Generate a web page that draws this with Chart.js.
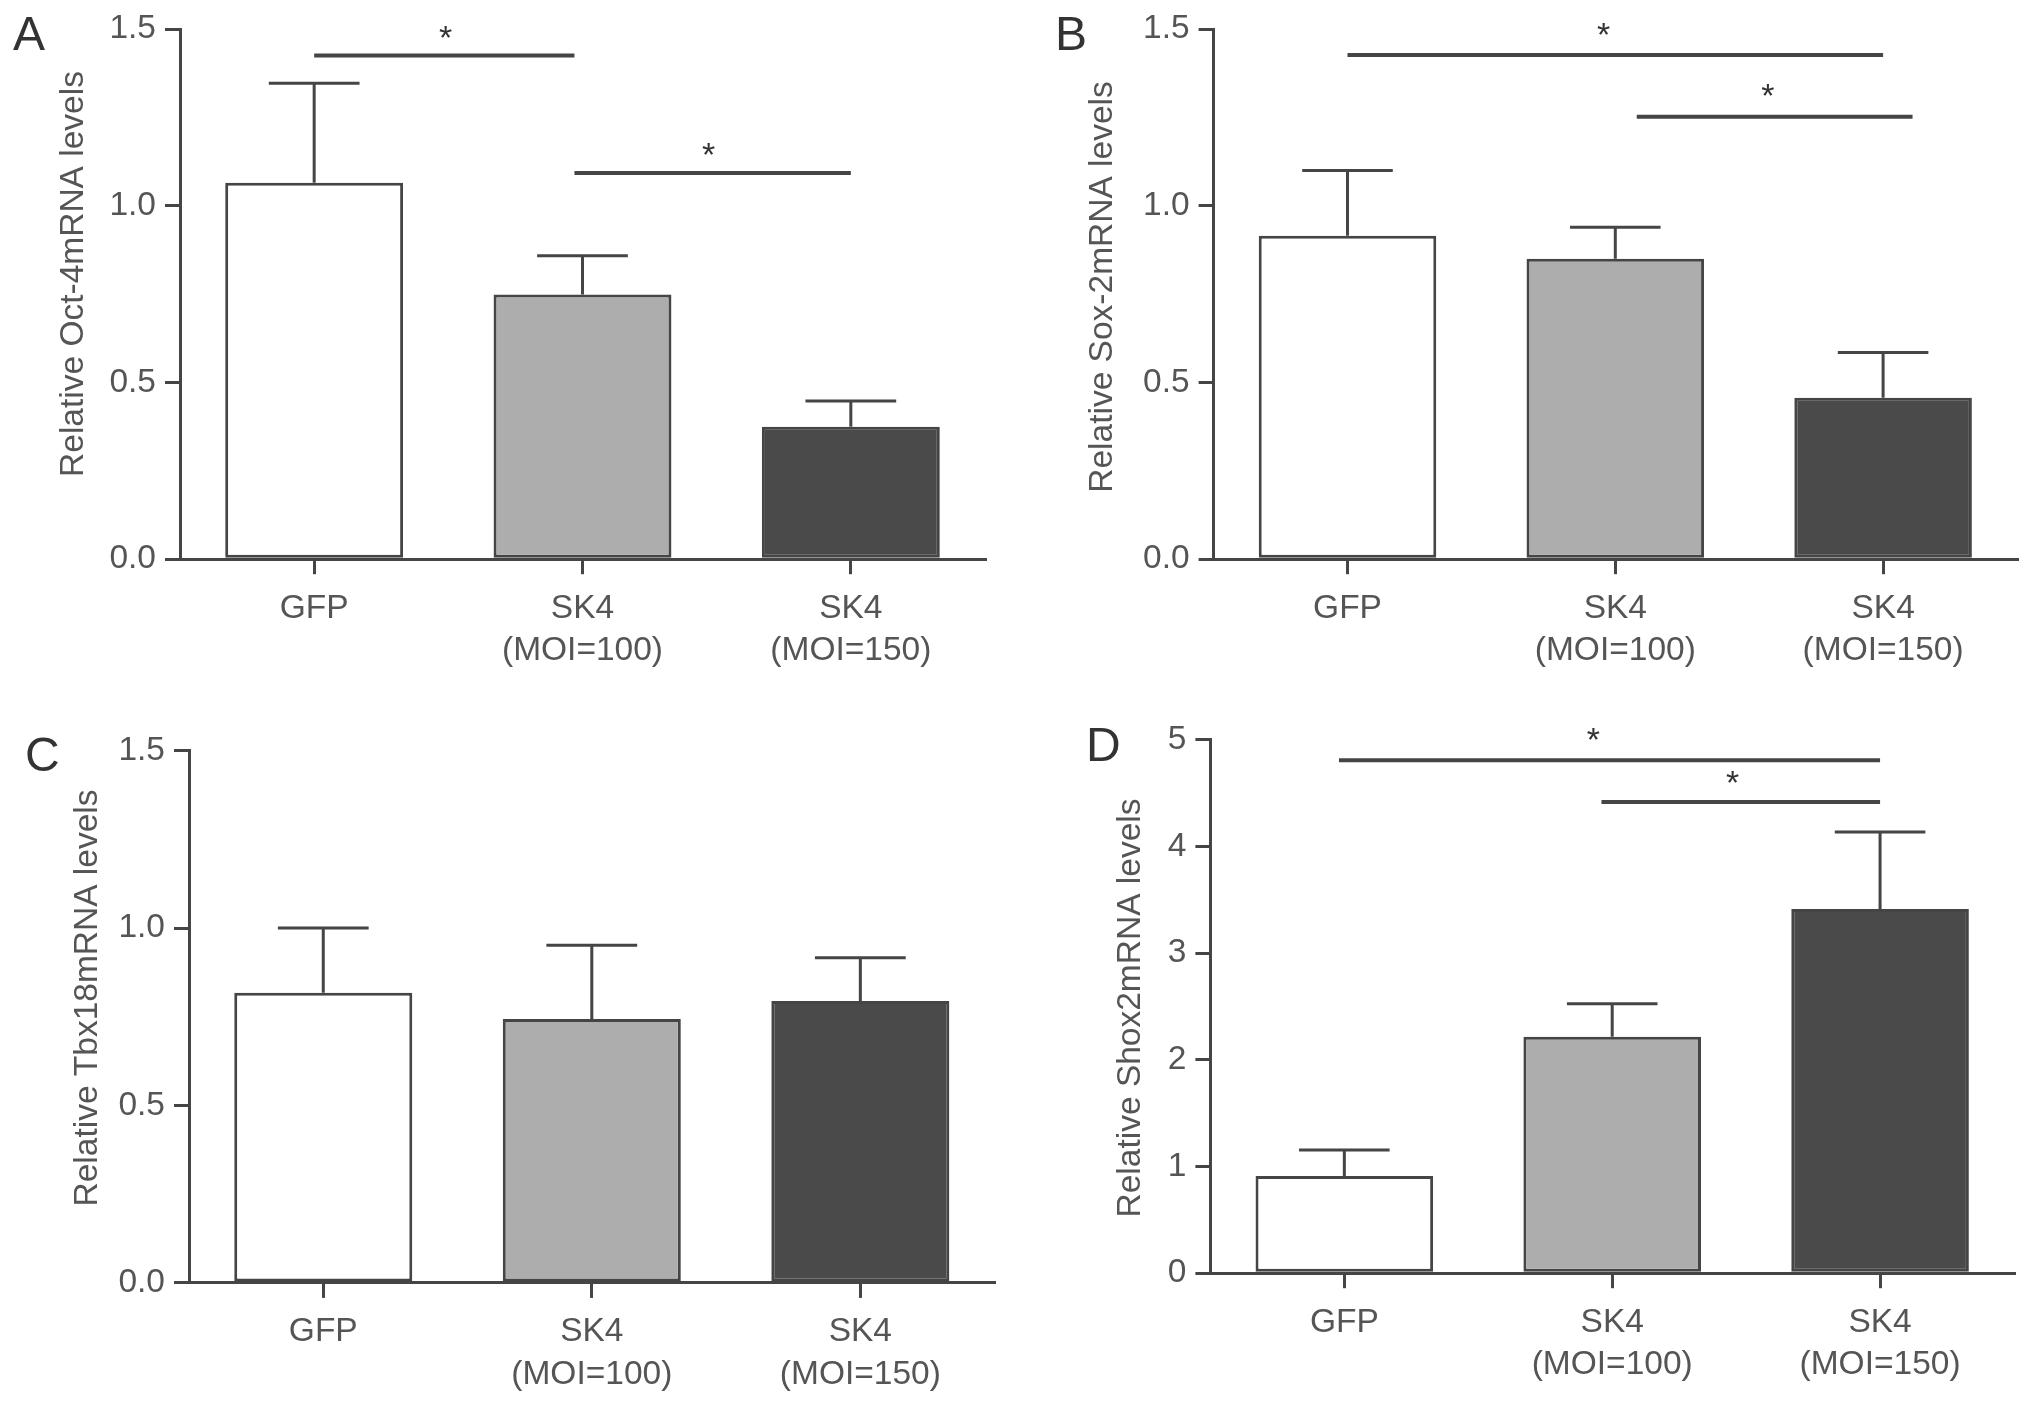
<!DOCTYPE html>
<html>
<head>
<meta charset="utf-8">
<script src="https://cdn.jsdelivr.net/npm/chart.js@4.4.1/dist/chart.umd.min.js"></script>
<style>
  html, body { margin: 0; padding: 0; background: #fff; }
  #wrap { position: relative; width: 2032px; height: 1406px; overflow: hidden; background: #fff; }
  #wrap canvas { position: absolute; }
  .letter { position: absolute; font-family: 'Liberation Sans', Arial, sans-serif; font-size: 48px; line-height: 1; color: #333; }
</style>
</head>
<body>
<div id="wrap">
  <canvas id="chartA" width="1016" height="703" style="left:0;top:0"></canvas>
  <canvas id="chartB" width="1016" height="703" style="left:1016px;top:0"></canvas>
  <canvas id="chartC" width="1016" height="703" style="left:0;top:703px"></canvas>
  <canvas id="chartD" width="1016" height="703" style="left:1016px;top:703px"></canvas>
  <div class="letter" style="left:13px;top:10px">A</div>
  <div class="letter" style="left:1055px;top:10px">B</div>
  <div class="letter" style="left:25px;top:731px">C</div>
  <div class="letter" style="left:1086px;top:721px">D</div>
</div>
<script>
const categories = ['GFP', ['SK4', '(MOI=100)'], ['SK4', '(MOI=150)']];

// panel A - Oct-4
const oct4Means = [1.065, 0.749, 0.375];
const oct4Sem = [0.282, 0.110, 0.073];
const oct4Sig = [
  { from: 0, to: 0.97, y: 1.425, starX: 0.49, starY: 1.484 },
  { from: 0.97, to: 2.0, y: 1.093, starX: 1.47, starY: 1.152 }
];

// panel B - Sox-2
const sox2Means = [0.915, 0.850, 0.457];
const sox2Sem = [0.185, 0.089, 0.128];
const sox2Sig = [
  { from: 0, to: 2.0, y: 1.427, starX: 0.956, starY: 1.493 },
  { from: 1.08, to: 2.11, y: 1.252, starX: 1.57, starY: 1.319 }
];

// panel C - Tbx18
const tbx18Means = [0.818, 0.744, 0.795];
const tbx18Sem = [0.183, 0.208, 0.122];
const tbx18Sig = [];

// panel D - Shox2
const shox2Means = [0.911, 2.217, 3.414];
const shox2Sem = [0.243, 0.310, 0.723];
const shox2Sig = [
  { from: -0.02, to: 2.0, y: 4.81, starX: 0.93, starY: 5.03 },
  { from: 0.96, to: 2.0, y: 4.417, starX: 1.45, starY: 4.62 }
];

const ratioTicks = [0, 0.5, 1.0, 1.5];
const foldTicks = [0, 1, 2, 3, 4, 5];

const LINE = '#454545';
const TEXT = '#555';
const FONT = "'Liberation Sans', Arial, sans-serif";
const barColors = ['#ffffff', '#adadad', '#4a4a4a'];

Chart.defaults.font.family = FONT;
Chart.defaults.font.size = 33.5;
Chart.defaults.color = TEXT;

function overlay(sem, sigs, title) {
  return {
    id: 'overlay',
    afterDatasetsDraw(chart) {
      const ctx = chart.ctx;
      const meta = chart.getDatasetMeta(0);
      const ds = chart.data.datasets[0];
      const x = chart.scales.x;
      const y = chart.scales.y;
      ctx.save();
      ctx.strokeStyle = LINE;
      ctx.lineCap = 'butt';

      // error bars (upper only)
      ctx.lineWidth = 3;
      sem.forEach((e, i) => {
        const bar = meta.data[i];
        const top = y.getPixelForValue(ds.data[i] + e);
        const half = bar.width * 0.255;
        ctx.beginPath();
        ctx.moveTo(bar.x, bar.y);
        ctx.lineTo(bar.x, top);
        ctx.moveTo(bar.x - half, top);
        ctx.lineTo(bar.x + half, top);
        ctx.stroke();
      });

      // significance lines
      ctx.lineWidth = 4;
      ctx.fillStyle = '#333';
      ctx.font = '34px ' + FONT;
      ctx.textAlign = 'center';
      ctx.textBaseline = 'alphabetic';
      sigs.forEach((s) => {
        const py = y.getPixelForValue(s.y);
        ctx.beginPath();
        ctx.moveTo(x.getPixelForValue(s.from), py);
        ctx.lineTo(x.getPixelForValue(s.to), py);
        ctx.stroke();
        ctx.fillText('*', x.getPixelForValue(s.starX), y.getPixelForValue(s.starY) + 14);
      });

      // y axis title
      ctx.fillStyle = TEXT;
      ctx.font = '33.5px ' + FONT;
      ctx.textBaseline = 'middle';
      ctx.translate(title.x, title.y);
      ctx.rotate(-Math.PI / 2);
      ctx.fillText(title.text, 0, 0);
      ctx.restore();
    }
  };
}

function makeChart(id, means, sem, sigs, yMax, step, digits, box, title) {
  const canvas = document.getElementById(id);
  return new Chart(canvas, {
    type: 'bar',
    data: {
      labels: categories,
      datasets: [{
        data: means,
        backgroundColor: barColors,
        borderColor: LINE,
        borderWidth: 3,
        borderSkipped: false,
        barPercentage: 0.663,
        categoryPercentage: 1
      }]
    },
    options: {
      responsive: false,
      animation: false,
      devicePixelRatio: 1,
      layout: { padding: { left: 0, right: 1016 - box.right, top: box.top, bottom: 0 } },
      plugins: { legend: { display: false }, tooltip: { enabled: false } },
      scales: {
        x: {
          offset: true,
          grid: { display: true, offset: false, drawOnChartArea: false, drawTicks: true, tickLength: 15, lineWidth: 3, color: LINE },
          border: { display: true, color: LINE, width: 3 },
          ticks: { padding: 13, color: TEXT, font: { size: 33.5, lineHeight: 1.27 }, maxRotation: 0, autoSkip: false },
          afterFit: (s) => { s.height = 703 - box.bottom; }
        },
        y: {
          min: 0,
          max: yMax,
          grid: { display: true, drawOnChartArea: false, drawTicks: true, tickLength: 15, lineWidth: 3, color: LINE },
          border: { display: true, color: LINE, width: 3 },
          ticks: { stepSize: step, padding: 9, color: TEXT, font: { size: 33.5 }, callback: (v) => Number(v).toFixed(digits) },
          afterFit: (s) => { s.width = box.left; }
        }
      }
    },
    plugins: [overlay(sem, sigs, title)]
  });
}

makeChart('chartA', oct4Means, oct4Sem, oct4Sig, ratioTicks[3], ratioTicks[1], 1,
  { left: 180, right: 985, top: 27.2, bottom: 559.2 },
  { text: 'Relative Oct-4mRNA levels', x: 74, y: 274 });
makeChart('chartB', sox2Means, sox2Sem, sox2Sig, ratioTicks[3], ratioTicks[1], 1,
  { left: 197.6, right: 1001, top: 27.2, bottom: 559.2 },
  { text: 'Relative Sox-2mRNA levels', x: 87, y: 287 });
makeChart('chartC', tbx18Means, tbx18Sem, tbx18Sig, ratioTicks[3], ratioTicks[1], 1,
  { left: 189, right: 994.6, top: 47.9, bottom: 579.9 },
  { text: 'Relative Tbx18mRNA levels', x: 88, y: 295 });
makeChart('chartD', shox2Means, shox2Sem, shox2Sig, foldTicks[5], foldTicks[1], 0,
  { left: 194.4, right: 998, top: 36.9, bottom: 570.2 },
  { text: 'Relative Shox2mRNA levels', x: 115, y: 305 });
</script>
</body>
</html>
